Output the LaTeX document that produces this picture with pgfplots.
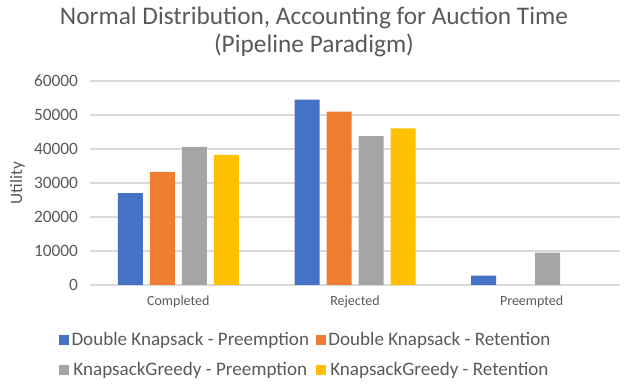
\documentclass[border=0pt]{standalone}
\usepackage{fontspec}
\setmainfont{Carlito}
\usepackage{pgfplots}
\pgfplotsset{compat=1.18}
\definecolor{xBlue}{RGB}{68,114,196}
\definecolor{xOrange}{RGB}{237,125,49}
\definecolor{xGray}{RGB}{165,165,165}
\definecolor{xYellow}{RGB}{255,192,0}
\definecolor{txt}{RGB}{89,89,89}
\definecolor{gridc}{RGB}{217,217,217}
\begin{document}
\begin{tikzpicture}
\path[use as bounding box] (-67.5pt,-74.25pt) rectangle (403.5pt,213.75pt);
\begin{axis}[
  scale only axis, width=397.5pt, height=153pt,
  ybar=5.25pt, bar width=18.75pt,
  xmin=-0.5, xmax=2.5, ymin=0, ymax=60000,
  xtick={0,1,2}, xticklabels={Completed,Rejected,Preempted},
  ytick={0,10000,...,60000},
  /pgf/number format/assume math mode=true,
  /pgf/number format/1000 sep={},
  scaled y ticks=false,
  ymajorgrids, grid style={gridc, line width=0.9pt},
  axis line style={draw=none},
  major tick length=0pt,
  yticklabel style={font=\fontsize{13}{15}\selectfont, text=txt, xshift=-5.5pt},
  xticklabel style={font=\fontsize{10.5}{12}\selectfont, text=txt, yshift=-4.5pt},
  ylabel={Utility}, ylabel style={font=\fontsize{13}{15}\selectfont, text=txt},
  every axis plot/.append style={draw=none},
  legend columns=2,
  legend style={at={(0.4075,-0.343)}, anchor=center, draw=none, fill=none,
    font=\fontsize{14.3}{16}\selectfont, text=txt,
    /tikz/every even column/.append style={column sep=3pt},
    row sep=6.5pt},
  legend image code/.code={\fill[#1] (0pt,-3.75pt) rectangle (7.5pt,3.75pt);},
]
\addplot[fill=xBlue] coordinates {(0,27000) (1,54500) (2,2750)};
\addplot[fill=xOrange] coordinates {(0,33300) (1,51000)};
\addplot[fill=xGray] coordinates {(0,40600) (1,43800) (2,9500)};
\addplot[fill=xYellow] coordinates {(0,38300) (1,46100)};
\legend{Double Knapsack - Preemption, Double Knapsack - Retention, KnapsackGreedy - Preemption, KnapsackGreedy - Retention}
\end{axis}
\node[align=center, text=txt, font=\fontsize{19}{21}\selectfont] at (168pt,189.75pt)
  {Normal Distribution, Accounting for Auction Time\\(Pipeline Paradigm)};
\end{tikzpicture}
\end{document}
